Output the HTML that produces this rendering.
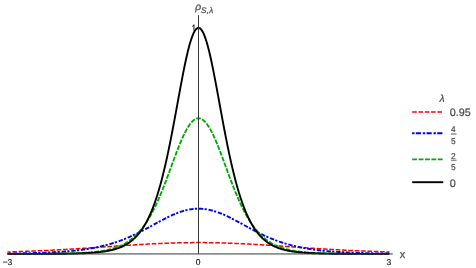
<!DOCTYPE html>
<html><head><meta charset="utf-8"><style>
html,body{margin:0;padding:0;background:#fff;}
svg{display:block;will-change:transform;}
text{font-family:"Liberation Sans",sans-serif;text-rendering:geometricPrecision;}
</style></head><body>
<svg width="476" height="268" viewBox="0 0 476 268">
<rect width="476" height="268" fill="#fff"/>
<path d="M7.49,251.99 L7.97,251.98 L8.45,251.97 L8.92,251.95 L9.40,251.94 L9.88,251.92 L10.36,251.91 L10.83,251.89 L11.31,251.88 L11.79,251.86 L12.27,251.84 L12.74,251.83 L13.22,251.81 L13.70,251.80 L14.18,251.78 L14.65,251.77 L15.13,251.75 L15.61,251.73 L16.09,251.72 L16.56,251.70 L17.04,251.69 L17.52,251.67 L18.00,251.65 L18.47,251.64 L18.95,251.62 L19.43,251.60 L19.91,251.58 L20.38,251.57 L20.86,251.55 L21.34,251.53 L21.82,251.52 L22.29,251.50 L22.77,251.48 L23.25,251.46 L23.73,251.44 L24.20,251.43 L24.68,251.41 L25.16,251.39 L25.64,251.37 L26.11,251.35 L26.59,251.34 L27.07,251.32 L27.55,251.30 L28.02,251.28 L28.50,251.26 L28.98,251.24 L29.46,251.22 L29.93,251.20 L30.41,251.18 L30.89,251.16 L31.37,251.14 L31.84,251.12 L32.32,251.10 L32.80,251.08 L33.28,251.06 L33.75,251.04 L34.23,251.02 L34.71,251.00 L35.19,250.98 L35.66,250.96 L36.14,250.94 L36.62,250.92 L37.10,250.90 L37.57,250.88 L38.05,250.86 L38.53,250.84 L39.01,250.81 L39.48,250.79 L39.96,250.77 L40.44,250.75 L40.92,250.73 L41.39,250.71 L41.87,250.68 L42.35,250.66 L42.83,250.64 L43.30,250.62 L43.78,250.59 L44.26,250.57 L44.74,250.55 L45.21,250.52 L45.69,250.50 L46.17,250.48 L46.65,250.46 L47.12,250.43 L47.60,250.41 L48.08,250.38 L48.56,250.36 L49.03,250.34 L49.51,250.31 L49.99,250.29 L50.47,250.26 L50.94,250.24 L51.42,250.22 L51.90,250.19 L52.38,250.17 L52.85,250.14 L53.33,250.12 L53.81,250.09 L54.29,250.07 L54.76,250.04 L55.24,250.02 L55.72,249.99 L56.20,249.96 L56.68,249.94 L57.15,249.91 L57.63,249.89 L58.11,249.86 L58.59,249.84 L59.06,249.81 L59.54,249.78 L60.02,249.76 L60.50,249.73 L60.97,249.70 L61.45,249.68 L61.93,249.65 L62.41,249.62 L62.88,249.59 L63.36,249.57 L63.84,249.54 L64.32,249.51 L64.79,249.49 L65.27,249.46 L65.75,249.43 L66.23,249.40 L66.70,249.37 L67.18,249.35 L67.66,249.32 L68.14,249.29 L68.61,249.26 L69.09,249.23 L69.57,249.20 L70.05,249.18 L70.52,249.15 L71.00,249.12 L71.48,249.09 L71.96,249.06 L72.43,249.03 L72.91,249.00 L73.39,248.97 L73.87,248.94 L74.34,248.91 L74.82,248.88 L75.30,248.85 L75.78,248.82 L76.25,248.79 L76.73,248.76 L77.21,248.73 L77.69,248.70 L78.16,248.67 L78.64,248.64 L79.12,248.61 L79.60,248.58 L80.07,248.55 L80.55,248.52 L81.03,248.49 L81.51,248.46 L81.98,248.43 L82.46,248.40 L82.94,248.37 L83.42,248.33 L83.89,248.30 L84.37,248.27 L84.85,248.24 L85.33,248.21 L85.80,248.18 L86.28,248.15 L86.76,248.11 L87.24,248.08 L87.71,248.05 L88.19,248.02 L88.67,247.99 L89.15,247.95 L89.62,247.92 L90.10,247.89 L90.58,247.86 L91.06,247.83 L91.53,247.79 L92.01,247.76 L92.49,247.73 L92.97,247.70 L93.44,247.66 L93.92,247.63 L94.40,247.60 L94.88,247.57 L95.35,247.53 L95.83,247.50 L96.31,247.47 L96.79,247.44 L97.26,247.40 L97.74,247.37 L98.22,247.34 L98.70,247.30 L99.17,247.27 L99.65,247.24 L100.13,247.21 L100.61,247.17 L101.08,247.14 L101.56,247.11 L102.04,247.07 L102.52,247.04 L103.00,247.01 L103.47,246.97 L103.95,246.94 L104.43,246.91 L104.91,246.87 L105.38,246.84 L105.86,246.81 L106.34,246.78 L106.82,246.74 L107.29,246.71 L107.77,246.68 L108.25,246.64 L108.73,246.61 L109.20,246.58 L109.68,246.54 L110.16,246.51 L110.64,246.48 L111.11,246.44 L111.59,246.41 L112.07,246.38 L112.55,246.34 L113.02,246.31 L113.50,246.28 L113.98,246.24 L114.46,246.21 L114.93,246.18 L115.41,246.15 L115.89,246.11 L116.37,246.08 L116.84,246.05 L117.32,246.01 L117.80,245.98 L118.28,245.95 L118.75,245.92 L119.23,245.88 L119.71,245.85 L120.19,245.82 L120.66,245.79 L121.14,245.75 L121.62,245.72 L122.10,245.69 L122.57,245.66 L123.05,245.62 L123.53,245.59 L124.01,245.56 L124.48,245.53 L124.96,245.50 L125.44,245.46 L125.92,245.43 L126.39,245.40 L126.87,245.37 L127.35,245.34 L127.83,245.31 L128.30,245.27 L128.78,245.24 L129.26,245.21 L129.74,245.18 L130.21,245.15 L130.69,245.12 L131.17,245.09 L131.65,245.06 L132.12,245.03 L132.60,245.00 L133.08,244.97 L133.56,244.94 L134.03,244.91 L134.51,244.88 L134.99,244.85 L135.47,244.82 L135.94,244.79 L136.42,244.76 L136.90,244.73 L137.38,244.70 L137.85,244.67 L138.33,244.64 L138.81,244.61 L139.29,244.58 L139.76,244.55 L140.24,244.52 L140.72,244.50 L141.20,244.47 L141.67,244.44 L142.15,244.41 L142.63,244.38 L143.11,244.36 L143.58,244.33 L144.06,244.30 L144.54,244.27 L145.02,244.25 L145.49,244.22 L145.97,244.19 L146.45,244.17 L146.93,244.14 L147.40,244.11 L147.88,244.09 L148.36,244.06 L148.84,244.04 L149.31,244.01 L149.79,243.98 L150.27,243.96 L150.75,243.93 L151.23,243.91 L151.70,243.88 L152.18,243.86 L152.66,243.84 L153.14,243.81 L153.61,243.79 L154.09,243.76 L154.57,243.74 L155.05,243.72 L155.52,243.69 L156.00,243.67 L156.48,243.65 L156.96,243.63 L157.43,243.60 L157.91,243.58 L158.39,243.56 L158.87,243.54 L159.34,243.52 L159.82,243.50 L160.30,243.47 L160.78,243.45 L161.25,243.43 L161.73,243.41 L162.21,243.39 L162.69,243.37 L163.16,243.35 L163.64,243.33 L164.12,243.31 L164.60,243.29 L165.07,243.28 L165.55,243.26 L166.03,243.24 L166.51,243.22 L166.98,243.20 L167.46,243.19 L167.94,243.17 L168.42,243.15 L168.89,243.13 L169.37,243.12 L169.85,243.10 L170.33,243.08 L170.80,243.07 L171.28,243.05 L171.76,243.04 L172.24,243.02 L172.71,243.01 L173.19,242.99 L173.67,242.98 L174.15,242.96 L174.62,242.95 L175.10,242.94 L175.58,242.92 L176.06,242.91 L176.53,242.90 L177.01,242.88 L177.49,242.87 L177.97,242.86 L178.44,242.85 L178.92,242.84 L179.40,242.83 L179.88,242.81 L180.35,242.80 L180.83,242.79 L181.31,242.78 L181.79,242.77 L182.26,242.76 L182.74,242.75 L183.22,242.74 L183.70,242.74 L184.17,242.73 L184.65,242.72 L185.13,242.71 L185.61,242.70 L186.08,242.70 L186.56,242.69 L187.04,242.68 L187.52,242.68 L187.99,242.67 L188.47,242.66 L188.95,242.66 L189.43,242.65 L189.90,242.65 L190.38,242.64 L190.86,242.64 L191.34,242.63 L191.81,242.63 L192.29,242.62 L192.77,242.62 L193.25,242.62 L193.72,242.61 L194.20,242.61 L194.68,242.61 L195.16,242.61 L195.63,242.61 L196.11,242.60 L196.59,242.60 L197.07,242.60 L197.54,242.60 L198.02,242.60 L198.50,242.60 L198.98,242.60 L199.46,242.60 L199.93,242.60 L200.41,242.60 L200.89,242.60 L201.37,242.61 L201.84,242.61 L202.32,242.61 L202.80,242.61 L203.28,242.61 L203.75,242.62 L204.23,242.62 L204.71,242.62 L205.19,242.63 L205.66,242.63 L206.14,242.64 L206.62,242.64 L207.10,242.65 L207.57,242.65 L208.05,242.66 L208.53,242.66 L209.01,242.67 L209.48,242.68 L209.96,242.68 L210.44,242.69 L210.92,242.70 L211.39,242.70 L211.87,242.71 L212.35,242.72 L212.83,242.73 L213.30,242.74 L213.78,242.74 L214.26,242.75 L214.74,242.76 L215.21,242.77 L215.69,242.78 L216.17,242.79 L216.65,242.80 L217.12,242.81 L217.60,242.83 L218.08,242.84 L218.56,242.85 L219.03,242.86 L219.51,242.87 L219.99,242.88 L220.47,242.90 L220.94,242.91 L221.42,242.92 L221.90,242.94 L222.38,242.95 L222.85,242.96 L223.33,242.98 L223.81,242.99 L224.29,243.01 L224.76,243.02 L225.24,243.04 L225.72,243.05 L226.20,243.07 L226.67,243.08 L227.15,243.10 L227.63,243.12 L228.11,243.13 L228.58,243.15 L229.06,243.17 L229.54,243.19 L230.02,243.20 L230.49,243.22 L230.97,243.24 L231.45,243.26 L231.93,243.28 L232.40,243.29 L232.88,243.31 L233.36,243.33 L233.84,243.35 L234.31,243.37 L234.79,243.39 L235.27,243.41 L235.75,243.43 L236.22,243.45 L236.70,243.47 L237.18,243.50 L237.66,243.52 L238.13,243.54 L238.61,243.56 L239.09,243.58 L239.57,243.60 L240.04,243.63 L240.52,243.65 L241.00,243.67 L241.48,243.69 L241.95,243.72 L242.43,243.74 L242.91,243.76 L243.39,243.79 L243.86,243.81 L244.34,243.84 L244.82,243.86 L245.30,243.88 L245.77,243.91 L246.25,243.93 L246.73,243.96 L247.21,243.98 L247.69,244.01 L248.16,244.04 L248.64,244.06 L249.12,244.09 L249.60,244.11 L250.07,244.14 L250.55,244.17 L251.03,244.19 L251.51,244.22 L251.98,244.25 L252.46,244.27 L252.94,244.30 L253.42,244.33 L253.89,244.36 L254.37,244.38 L254.85,244.41 L255.33,244.44 L255.80,244.47 L256.28,244.50 L256.76,244.52 L257.24,244.55 L257.71,244.58 L258.19,244.61 L258.67,244.64 L259.15,244.67 L259.62,244.70 L260.10,244.73 L260.58,244.76 L261.06,244.79 L261.53,244.82 L262.01,244.85 L262.49,244.88 L262.97,244.91 L263.44,244.94 L263.92,244.97 L264.40,245.00 L264.88,245.03 L265.35,245.06 L265.83,245.09 L266.31,245.12 L266.79,245.15 L267.26,245.18 L267.74,245.21 L268.22,245.24 L268.70,245.27 L269.17,245.31 L269.65,245.34 L270.13,245.37 L270.61,245.40 L271.08,245.43 L271.56,245.46 L272.04,245.50 L272.52,245.53 L272.99,245.56 L273.47,245.59 L273.95,245.62 L274.43,245.66 L274.90,245.69 L275.38,245.72 L275.86,245.75 L276.34,245.79 L276.81,245.82 L277.29,245.85 L277.77,245.88 L278.25,245.92 L278.72,245.95 L279.20,245.98 L279.68,246.01 L280.16,246.05 L280.63,246.08 L281.11,246.11 L281.59,246.15 L282.07,246.18 L282.54,246.21 L283.02,246.24 L283.50,246.28 L283.98,246.31 L284.45,246.34 L284.93,246.38 L285.41,246.41 L285.89,246.44 L286.36,246.48 L286.84,246.51 L287.32,246.54 L287.80,246.58 L288.27,246.61 L288.75,246.64 L289.23,246.68 L289.71,246.71 L290.18,246.74 L290.66,246.78 L291.14,246.81 L291.62,246.84 L292.09,246.87 L292.57,246.91 L293.05,246.94 L293.53,246.97 L294.00,247.01 L294.48,247.04 L294.96,247.07 L295.44,247.11 L295.92,247.14 L296.39,247.17 L296.87,247.21 L297.35,247.24 L297.83,247.27 L298.30,247.30 L298.78,247.34 L299.26,247.37 L299.74,247.40 L300.21,247.44 L300.69,247.47 L301.17,247.50 L301.65,247.53 L302.12,247.57 L302.60,247.60 L303.08,247.63 L303.56,247.66 L304.03,247.70 L304.51,247.73 L304.99,247.76 L305.47,247.79 L305.94,247.83 L306.42,247.86 L306.90,247.89 L307.38,247.92 L307.85,247.95 L308.33,247.99 L308.81,248.02 L309.29,248.05 L309.76,248.08 L310.24,248.11 L310.72,248.15 L311.20,248.18 L311.67,248.21 L312.15,248.24 L312.63,248.27 L313.11,248.30 L313.58,248.33 L314.06,248.37 L314.54,248.40 L315.02,248.43 L315.49,248.46 L315.97,248.49 L316.45,248.52 L316.93,248.55 L317.40,248.58 L317.88,248.61 L318.36,248.64 L318.84,248.67 L319.31,248.70 L319.79,248.73 L320.27,248.76 L320.75,248.79 L321.22,248.82 L321.70,248.85 L322.18,248.88 L322.66,248.91 L323.13,248.94 L323.61,248.97 L324.09,249.00 L324.57,249.03 L325.04,249.06 L325.52,249.09 L326.00,249.12 L326.48,249.15 L326.95,249.18 L327.43,249.20 L327.91,249.23 L328.39,249.26 L328.86,249.29 L329.34,249.32 L329.82,249.35 L330.30,249.37 L330.77,249.40 L331.25,249.43 L331.73,249.46 L332.21,249.49 L332.68,249.51 L333.16,249.54 L333.64,249.57 L334.12,249.59 L334.59,249.62 L335.07,249.65 L335.55,249.68 L336.03,249.70 L336.50,249.73 L336.98,249.76 L337.46,249.78 L337.94,249.81 L338.41,249.84 L338.89,249.86 L339.37,249.89 L339.85,249.91 L340.32,249.94 L340.80,249.96 L341.28,249.99 L341.76,250.02 L342.24,250.04 L342.71,250.07 L343.19,250.09 L343.67,250.12 L344.15,250.14 L344.62,250.17 L345.10,250.19 L345.58,250.22 L346.06,250.24 L346.53,250.26 L347.01,250.29 L347.49,250.31 L347.97,250.34 L348.44,250.36 L348.92,250.38 L349.40,250.41 L349.88,250.43 L350.35,250.46 L350.83,250.48 L351.31,250.50 L351.79,250.52 L352.26,250.55 L352.74,250.57 L353.22,250.59 L353.70,250.62 L354.17,250.64 L354.65,250.66 L355.13,250.68 L355.61,250.71 L356.08,250.73 L356.56,250.75 L357.04,250.77 L357.52,250.79 L357.99,250.81 L358.47,250.84 L358.95,250.86 L359.43,250.88 L359.90,250.90 L360.38,250.92 L360.86,250.94 L361.34,250.96 L361.81,250.98 L362.29,251.00 L362.77,251.02 L363.25,251.04 L363.72,251.06 L364.20,251.08 L364.68,251.10 L365.16,251.12 L365.63,251.14 L366.11,251.16 L366.59,251.18 L367.07,251.20 L367.54,251.22 L368.02,251.24 L368.50,251.26 L368.98,251.28 L369.45,251.30 L369.93,251.32 L370.41,251.34 L370.89,251.35 L371.36,251.37 L371.84,251.39 L372.32,251.41 L372.80,251.43 L373.27,251.44 L373.75,251.46 L374.23,251.48 L374.71,251.50 L375.18,251.52 L375.66,251.53 L376.14,251.55 L376.62,251.57 L377.09,251.58 L377.57,251.60 L378.05,251.62 L378.53,251.64 L379.00,251.65 L379.48,251.67 L379.96,251.69 L380.44,251.70 L380.91,251.72 L381.39,251.73 L381.87,251.75 L382.35,251.77 L382.82,251.78 L383.30,251.80 L383.78,251.81 L384.26,251.83 L384.73,251.84 L385.21,251.86 L385.69,251.88 L386.17,251.89 L386.64,251.91 L387.12,251.92 L387.60,251.94 L388.08,251.95 L388.55,251.97 L389.03,251.98 L389.51,251.99" fill="none" stroke="#ff0000" stroke-width="1.5" stroke-dasharray="4.6 1.75" stroke-dashoffset="1.53" stroke-linejoin="round"/>
<path d="M7.49,253.56 L7.97,253.55 L8.45,253.55 L8.92,253.54 L9.40,253.54 L9.88,253.53 L10.36,253.52 L10.83,253.52 L11.31,253.51 L11.79,253.51 L12.27,253.50 L12.74,253.49 L13.22,253.49 L13.70,253.48 L14.18,253.47 L14.65,253.47 L15.13,253.46 L15.61,253.45 L16.09,253.44 L16.56,253.44 L17.04,253.43 L17.52,253.42 L18.00,253.41 L18.47,253.40 L18.95,253.40 L19.43,253.39 L19.91,253.38 L20.38,253.37 L20.86,253.36 L21.34,253.35 L21.82,253.35 L22.29,253.34 L22.77,253.33 L23.25,253.32 L23.73,253.31 L24.20,253.30 L24.68,253.29 L25.16,253.28 L25.64,253.27 L26.11,253.26 L26.59,253.25 L27.07,253.24 L27.55,253.23 L28.02,253.22 L28.50,253.20 L28.98,253.19 L29.46,253.18 L29.93,253.17 L30.41,253.16 L30.89,253.15 L31.37,253.13 L31.84,253.12 L32.32,253.11 L32.80,253.09 L33.28,253.08 L33.75,253.07 L34.23,253.05 L34.71,253.04 L35.19,253.03 L35.66,253.01 L36.14,253.00 L36.62,252.98 L37.10,252.97 L37.57,252.95 L38.05,252.94 L38.53,252.92 L39.01,252.91 L39.48,252.89 L39.96,252.87 L40.44,252.86 L40.92,252.84 L41.39,252.82 L41.87,252.81 L42.35,252.79 L42.83,252.77 L43.30,252.75 L43.78,252.73 L44.26,252.71 L44.74,252.70 L45.21,252.68 L45.69,252.66 L46.17,252.64 L46.65,252.62 L47.12,252.59 L47.60,252.57 L48.08,252.55 L48.56,252.53 L49.03,252.51 L49.51,252.49 L49.99,252.46 L50.47,252.44 L50.94,252.42 L51.42,252.39 L51.90,252.37 L52.38,252.34 L52.85,252.32 L53.33,252.29 L53.81,252.27 L54.29,252.24 L54.76,252.21 L55.24,252.19 L55.72,252.16 L56.20,252.13 L56.68,252.10 L57.15,252.07 L57.63,252.04 L58.11,252.02 L58.59,251.98 L59.06,251.95 L59.54,251.92 L60.02,251.89 L60.50,251.86 L60.97,251.83 L61.45,251.79 L61.93,251.76 L62.41,251.73 L62.88,251.69 L63.36,251.66 L63.84,251.62 L64.32,251.58 L64.79,251.55 L65.27,251.51 L65.75,251.47 L66.23,251.43 L66.70,251.39 L67.18,251.35 L67.66,251.31 L68.14,251.27 L68.61,251.23 L69.09,251.19 L69.57,251.14 L70.05,251.10 L70.52,251.06 L71.00,251.01 L71.48,250.97 L71.96,250.92 L72.43,250.87 L72.91,250.82 L73.39,250.78 L73.87,250.73 L74.34,250.68 L74.82,250.63 L75.30,250.58 L75.78,250.52 L76.25,250.47 L76.73,250.42 L77.21,250.36 L77.69,250.31 L78.16,250.25 L78.64,250.19 L79.12,250.14 L79.60,250.08 L80.07,250.02 L80.55,249.96 L81.03,249.89 L81.51,249.83 L81.98,249.77 L82.46,249.71 L82.94,249.64 L83.42,249.57 L83.89,249.51 L84.37,249.44 L84.85,249.37 L85.33,249.30 L85.80,249.23 L86.28,249.16 L86.76,249.09 L87.24,249.01 L87.71,248.94 L88.19,248.86 L88.67,248.78 L89.15,248.71 L89.62,248.63 L90.10,248.55 L90.58,248.46 L91.06,248.38 L91.53,248.30 L92.01,248.21 L92.49,248.13 L92.97,248.04 L93.44,247.95 L93.92,247.86 L94.40,247.77 L94.88,247.68 L95.35,247.58 L95.83,247.49 L96.31,247.39 L96.79,247.30 L97.26,247.20 L97.74,247.10 L98.22,247.00 L98.70,246.89 L99.17,246.79 L99.65,246.68 L100.13,246.58 L100.61,246.47 L101.08,246.36 L101.56,246.25 L102.04,246.14 L102.52,246.02 L103.00,245.91 L103.47,245.79 L103.95,245.67 L104.43,245.55 L104.91,245.43 L105.38,245.31 L105.86,245.18 L106.34,245.06 L106.82,244.93 L107.29,244.80 L107.77,244.67 L108.25,244.54 L108.73,244.41 L109.20,244.27 L109.68,244.13 L110.16,244.00 L110.64,243.86 L111.11,243.71 L111.59,243.57 L112.07,243.43 L112.55,243.28 L113.02,243.13 L113.50,242.98 L113.98,242.83 L114.46,242.67 L114.93,242.52 L115.41,242.36 L115.89,242.20 L116.37,242.04 L116.84,241.88 L117.32,241.72 L117.80,241.55 L118.28,241.39 L118.75,241.22 L119.23,241.05 L119.71,240.87 L120.19,240.70 L120.66,240.52 L121.14,240.34 L121.62,240.17 L122.10,239.98 L122.57,239.80 L123.05,239.62 L123.53,239.43 L124.01,239.24 L124.48,239.05 L124.96,238.86 L125.44,238.67 L125.92,238.47 L126.39,238.27 L126.87,238.07 L127.35,237.87 L127.83,237.67 L128.30,237.47 L128.78,237.26 L129.26,237.05 L129.74,236.84 L130.21,236.63 L130.69,236.42 L131.17,236.21 L131.65,235.99 L132.12,235.77 L132.60,235.56 L133.08,235.33 L133.56,235.11 L134.03,234.89 L134.51,234.66 L134.99,234.44 L135.47,234.21 L135.94,233.98 L136.42,233.75 L136.90,233.51 L137.38,233.28 L137.85,233.04 L138.33,232.81 L138.81,232.57 L139.29,232.33 L139.76,232.09 L140.24,231.85 L140.72,231.60 L141.20,231.36 L141.67,231.11 L142.15,230.87 L142.63,230.62 L143.11,230.37 L143.58,230.12 L144.06,229.87 L144.54,229.62 L145.02,229.36 L145.49,229.11 L145.97,228.86 L146.45,228.60 L146.93,228.34 L147.40,228.09 L147.88,227.83 L148.36,227.57 L148.84,227.31 L149.31,227.05 L149.79,226.80 L150.27,226.54 L150.75,226.27 L151.23,226.01 L151.70,225.75 L152.18,225.49 L152.66,225.23 L153.14,224.97 L153.61,224.71 L154.09,224.45 L154.57,224.18 L155.05,223.92 L155.52,223.66 L156.00,223.40 L156.48,223.14 L156.96,222.88 L157.43,222.62 L157.91,222.36 L158.39,222.10 L158.87,221.84 L159.34,221.59 L159.82,221.33 L160.30,221.07 L160.78,220.82 L161.25,220.56 L161.73,220.31 L162.21,220.06 L162.69,219.81 L163.16,219.56 L163.64,219.31 L164.12,219.06 L164.60,218.81 L165.07,218.57 L165.55,218.33 L166.03,218.08 L166.51,217.84 L166.98,217.61 L167.46,217.37 L167.94,217.13 L168.42,216.90 L168.89,216.67 L169.37,216.44 L169.85,216.22 L170.33,215.99 L170.80,215.77 L171.28,215.55 L171.76,215.33 L172.24,215.12 L172.71,214.91 L173.19,214.70 L173.67,214.49 L174.15,214.29 L174.62,214.08 L175.10,213.88 L175.58,213.69 L176.06,213.50 L176.53,213.31 L177.01,213.12 L177.49,212.94 L177.97,212.76 L178.44,212.58 L178.92,212.41 L179.40,212.23 L179.88,212.07 L180.35,211.90 L180.83,211.74 L181.31,211.59 L181.79,211.44 L182.26,211.29 L182.74,211.14 L183.22,211.00 L183.70,210.86 L184.17,210.73 L184.65,210.60 L185.13,210.47 L185.61,210.35 L186.08,210.23 L186.56,210.12 L187.04,210.01 L187.52,209.91 L187.99,209.80 L188.47,209.71 L188.95,209.61 L189.43,209.53 L189.90,209.44 L190.38,209.36 L190.86,209.29 L191.34,209.22 L191.81,209.15 L192.29,209.09 L192.77,209.03 L193.25,208.98 L193.72,208.93 L194.20,208.89 L194.68,208.85 L195.16,208.81 L195.63,208.78 L196.11,208.76 L196.59,208.74 L197.07,208.72 L197.54,208.71 L198.02,208.70 L198.50,208.70 L198.98,208.70 L199.46,208.71 L199.93,208.72 L200.41,208.74 L200.89,208.76 L201.37,208.78 L201.84,208.81 L202.32,208.85 L202.80,208.89 L203.28,208.93 L203.75,208.98 L204.23,209.03 L204.71,209.09 L205.19,209.15 L205.66,209.22 L206.14,209.29 L206.62,209.36 L207.10,209.44 L207.57,209.53 L208.05,209.61 L208.53,209.71 L209.01,209.80 L209.48,209.91 L209.96,210.01 L210.44,210.12 L210.92,210.23 L211.39,210.35 L211.87,210.47 L212.35,210.60 L212.83,210.73 L213.30,210.86 L213.78,211.00 L214.26,211.14 L214.74,211.29 L215.21,211.44 L215.69,211.59 L216.17,211.74 L216.65,211.90 L217.12,212.07 L217.60,212.23 L218.08,212.41 L218.56,212.58 L219.03,212.76 L219.51,212.94 L219.99,213.12 L220.47,213.31 L220.94,213.50 L221.42,213.69 L221.90,213.88 L222.38,214.08 L222.85,214.29 L223.33,214.49 L223.81,214.70 L224.29,214.91 L224.76,215.12 L225.24,215.33 L225.72,215.55 L226.20,215.77 L226.67,215.99 L227.15,216.22 L227.63,216.44 L228.11,216.67 L228.58,216.90 L229.06,217.13 L229.54,217.37 L230.02,217.61 L230.49,217.84 L230.97,218.08 L231.45,218.33 L231.93,218.57 L232.40,218.81 L232.88,219.06 L233.36,219.31 L233.84,219.56 L234.31,219.81 L234.79,220.06 L235.27,220.31 L235.75,220.56 L236.22,220.82 L236.70,221.07 L237.18,221.33 L237.66,221.59 L238.13,221.84 L238.61,222.10 L239.09,222.36 L239.57,222.62 L240.04,222.88 L240.52,223.14 L241.00,223.40 L241.48,223.66 L241.95,223.92 L242.43,224.18 L242.91,224.45 L243.39,224.71 L243.86,224.97 L244.34,225.23 L244.82,225.49 L245.30,225.75 L245.77,226.01 L246.25,226.27 L246.73,226.54 L247.21,226.80 L247.69,227.05 L248.16,227.31 L248.64,227.57 L249.12,227.83 L249.60,228.09 L250.07,228.34 L250.55,228.60 L251.03,228.86 L251.51,229.11 L251.98,229.36 L252.46,229.62 L252.94,229.87 L253.42,230.12 L253.89,230.37 L254.37,230.62 L254.85,230.87 L255.33,231.11 L255.80,231.36 L256.28,231.60 L256.76,231.85 L257.24,232.09 L257.71,232.33 L258.19,232.57 L258.67,232.81 L259.15,233.04 L259.62,233.28 L260.10,233.51 L260.58,233.75 L261.06,233.98 L261.53,234.21 L262.01,234.44 L262.49,234.66 L262.97,234.89 L263.44,235.11 L263.92,235.33 L264.40,235.56 L264.88,235.77 L265.35,235.99 L265.83,236.21 L266.31,236.42 L266.79,236.63 L267.26,236.84 L267.74,237.05 L268.22,237.26 L268.70,237.47 L269.17,237.67 L269.65,237.87 L270.13,238.07 L270.61,238.27 L271.08,238.47 L271.56,238.67 L272.04,238.86 L272.52,239.05 L272.99,239.24 L273.47,239.43 L273.95,239.62 L274.43,239.80 L274.90,239.98 L275.38,240.17 L275.86,240.34 L276.34,240.52 L276.81,240.70 L277.29,240.87 L277.77,241.05 L278.25,241.22 L278.72,241.39 L279.20,241.55 L279.68,241.72 L280.16,241.88 L280.63,242.04 L281.11,242.20 L281.59,242.36 L282.07,242.52 L282.54,242.67 L283.02,242.83 L283.50,242.98 L283.98,243.13 L284.45,243.28 L284.93,243.43 L285.41,243.57 L285.89,243.71 L286.36,243.86 L286.84,244.00 L287.32,244.13 L287.80,244.27 L288.27,244.41 L288.75,244.54 L289.23,244.67 L289.71,244.80 L290.18,244.93 L290.66,245.06 L291.14,245.18 L291.62,245.31 L292.09,245.43 L292.57,245.55 L293.05,245.67 L293.53,245.79 L294.00,245.91 L294.48,246.02 L294.96,246.14 L295.44,246.25 L295.92,246.36 L296.39,246.47 L296.87,246.58 L297.35,246.68 L297.83,246.79 L298.30,246.89 L298.78,247.00 L299.26,247.10 L299.74,247.20 L300.21,247.30 L300.69,247.39 L301.17,247.49 L301.65,247.58 L302.12,247.68 L302.60,247.77 L303.08,247.86 L303.56,247.95 L304.03,248.04 L304.51,248.13 L304.99,248.21 L305.47,248.30 L305.94,248.38 L306.42,248.46 L306.90,248.55 L307.38,248.63 L307.85,248.71 L308.33,248.78 L308.81,248.86 L309.29,248.94 L309.76,249.01 L310.24,249.09 L310.72,249.16 L311.20,249.23 L311.67,249.30 L312.15,249.37 L312.63,249.44 L313.11,249.51 L313.58,249.57 L314.06,249.64 L314.54,249.71 L315.02,249.77 L315.49,249.83 L315.97,249.89 L316.45,249.96 L316.93,250.02 L317.40,250.08 L317.88,250.14 L318.36,250.19 L318.84,250.25 L319.31,250.31 L319.79,250.36 L320.27,250.42 L320.75,250.47 L321.22,250.52 L321.70,250.58 L322.18,250.63 L322.66,250.68 L323.13,250.73 L323.61,250.78 L324.09,250.82 L324.57,250.87 L325.04,250.92 L325.52,250.97 L326.00,251.01 L326.48,251.06 L326.95,251.10 L327.43,251.14 L327.91,251.19 L328.39,251.23 L328.86,251.27 L329.34,251.31 L329.82,251.35 L330.30,251.39 L330.77,251.43 L331.25,251.47 L331.73,251.51 L332.21,251.55 L332.68,251.58 L333.16,251.62 L333.64,251.66 L334.12,251.69 L334.59,251.73 L335.07,251.76 L335.55,251.79 L336.03,251.83 L336.50,251.86 L336.98,251.89 L337.46,251.92 L337.94,251.95 L338.41,251.98 L338.89,252.02 L339.37,252.04 L339.85,252.07 L340.32,252.10 L340.80,252.13 L341.28,252.16 L341.76,252.19 L342.24,252.21 L342.71,252.24 L343.19,252.27 L343.67,252.29 L344.15,252.32 L344.62,252.34 L345.10,252.37 L345.58,252.39 L346.06,252.42 L346.53,252.44 L347.01,252.46 L347.49,252.49 L347.97,252.51 L348.44,252.53 L348.92,252.55 L349.40,252.57 L349.88,252.59 L350.35,252.62 L350.83,252.64 L351.31,252.66 L351.79,252.68 L352.26,252.70 L352.74,252.71 L353.22,252.73 L353.70,252.75 L354.17,252.77 L354.65,252.79 L355.13,252.81 L355.61,252.82 L356.08,252.84 L356.56,252.86 L357.04,252.87 L357.52,252.89 L357.99,252.91 L358.47,252.92 L358.95,252.94 L359.43,252.95 L359.90,252.97 L360.38,252.98 L360.86,253.00 L361.34,253.01 L361.81,253.03 L362.29,253.04 L362.77,253.05 L363.25,253.07 L363.72,253.08 L364.20,253.09 L364.68,253.11 L365.16,253.12 L365.63,253.13 L366.11,253.15 L366.59,253.16 L367.07,253.17 L367.54,253.18 L368.02,253.19 L368.50,253.20 L368.98,253.22 L369.45,253.23 L369.93,253.24 L370.41,253.25 L370.89,253.26 L371.36,253.27 L371.84,253.28 L372.32,253.29 L372.80,253.30 L373.27,253.31 L373.75,253.32 L374.23,253.33 L374.71,253.34 L375.18,253.35 L375.66,253.35 L376.14,253.36 L376.62,253.37 L377.09,253.38 L377.57,253.39 L378.05,253.40 L378.53,253.40 L379.00,253.41 L379.48,253.42 L379.96,253.43 L380.44,253.44 L380.91,253.44 L381.39,253.45 L381.87,253.46 L382.35,253.47 L382.82,253.47 L383.30,253.48 L383.78,253.49 L384.26,253.49 L384.73,253.50 L385.21,253.51 L385.69,253.51 L386.17,253.52 L386.64,253.52 L387.12,253.53 L387.60,253.54 L388.08,253.54 L388.55,253.55 L389.03,253.55 L389.51,253.56" fill="none" stroke="#0000ff" stroke-width="1.9" stroke-dasharray="4.4 1.3 2.2 1.8" stroke-dashoffset="4.03" stroke-linejoin="round"/>
<path d="M7.49,253.89 L7.97,253.89 L8.45,253.89 L8.92,253.89 L9.40,253.88 L9.88,253.88 L10.36,253.88 L10.83,253.88 L11.31,253.88 L11.79,253.88 L12.27,253.88 L12.74,253.88 L13.22,253.88 L13.70,253.88 L14.18,253.88 L14.65,253.88 L15.13,253.88 L15.61,253.88 L16.09,253.88 L16.56,253.88 L17.04,253.88 L17.52,253.88 L18.00,253.87 L18.47,253.87 L18.95,253.87 L19.43,253.87 L19.91,253.87 L20.38,253.87 L20.86,253.87 L21.34,253.87 L21.82,253.87 L22.29,253.87 L22.77,253.87 L23.25,253.87 L23.73,253.87 L24.20,253.86 L24.68,253.86 L25.16,253.86 L25.64,253.86 L26.11,253.86 L26.59,253.86 L27.07,253.86 L27.55,253.86 L28.02,253.86 L28.50,253.85 L28.98,253.85 L29.46,253.85 L29.93,253.85 L30.41,253.85 L30.89,253.85 L31.37,253.85 L31.84,253.85 L32.32,253.84 L32.80,253.84 L33.28,253.84 L33.75,253.84 L34.23,253.84 L34.71,253.84 L35.19,253.83 L35.66,253.83 L36.14,253.83 L36.62,253.83 L37.10,253.83 L37.57,253.82 L38.05,253.82 L38.53,253.82 L39.01,253.82 L39.48,253.82 L39.96,253.81 L40.44,253.81 L40.92,253.81 L41.39,253.81 L41.87,253.80 L42.35,253.80 L42.83,253.80 L43.30,253.79 L43.78,253.79 L44.26,253.79 L44.74,253.79 L45.21,253.78 L45.69,253.78 L46.17,253.78 L46.65,253.77 L47.12,253.77 L47.60,253.77 L48.08,253.76 L48.56,253.76 L49.03,253.75 L49.51,253.75 L49.99,253.75 L50.47,253.74 L50.94,253.74 L51.42,253.73 L51.90,253.73 L52.38,253.72 L52.85,253.72 L53.33,253.71 L53.81,253.71 L54.29,253.70 L54.76,253.70 L55.24,253.69 L55.72,253.69 L56.20,253.68 L56.68,253.67 L57.15,253.67 L57.63,253.66 L58.11,253.66 L58.59,253.65 L59.06,253.64 L59.54,253.63 L60.02,253.63 L60.50,253.62 L60.97,253.61 L61.45,253.60 L61.93,253.60 L62.41,253.59 L62.88,253.58 L63.36,253.57 L63.84,253.56 L64.32,253.55 L64.79,253.54 L65.27,253.53 L65.75,253.52 L66.23,253.51 L66.70,253.50 L67.18,253.49 L67.66,253.48 L68.14,253.47 L68.61,253.46 L69.09,253.44 L69.57,253.43 L70.05,253.42 L70.52,253.41 L71.00,253.39 L71.48,253.38 L71.96,253.36 L72.43,253.35 L72.91,253.33 L73.39,253.32 L73.87,253.30 L74.34,253.29 L74.82,253.27 L75.30,253.25 L75.78,253.23 L76.25,253.22 L76.73,253.20 L77.21,253.18 L77.69,253.16 L78.16,253.14 L78.64,253.12 L79.12,253.10 L79.60,253.07 L80.07,253.05 L80.55,253.03 L81.03,253.00 L81.51,252.98 L81.98,252.95 L82.46,252.93 L82.94,252.90 L83.42,252.87 L83.89,252.85 L84.37,252.82 L84.85,252.79 L85.33,252.76 L85.80,252.73 L86.28,252.69 L86.76,252.66 L87.24,252.63 L87.71,252.59 L88.19,252.56 L88.67,252.52 L89.15,252.48 L89.62,252.44 L90.10,252.40 L90.58,252.36 L91.06,252.32 L91.53,252.28 L92.01,252.23 L92.49,252.19 L92.97,252.14 L93.44,252.09 L93.92,252.04 L94.40,251.99 L94.88,251.94 L95.35,251.89 L95.83,251.83 L96.31,251.77 L96.79,251.72 L97.26,251.66 L97.74,251.60 L98.22,251.53 L98.70,251.47 L99.17,251.40 L99.65,251.34 L100.13,251.27 L100.61,251.19 L101.08,251.12 L101.56,251.05 L102.04,250.97 L102.52,250.89 L103.00,250.81 L103.47,250.72 L103.95,250.64 L104.43,250.55 L104.91,250.46 L105.38,250.36 L105.86,250.27 L106.34,250.17 L106.82,250.07 L107.29,249.97 L107.77,249.86 L108.25,249.75 L108.73,249.64 L109.20,249.52 L109.68,249.41 L110.16,249.28 L110.64,249.16 L111.11,249.03 L111.59,248.90 L112.07,248.77 L112.55,248.63 L113.02,248.49 L113.50,248.34 L113.98,248.19 L114.46,248.04 L114.93,247.89 L115.41,247.72 L115.89,247.56 L116.37,247.39 L116.84,247.22 L117.32,247.04 L117.80,246.86 L118.28,246.67 L118.75,246.48 L119.23,246.28 L119.71,246.08 L120.19,245.87 L120.66,245.66 L121.14,245.44 L121.62,245.22 L122.10,244.99 L122.57,244.75 L123.05,244.51 L123.53,244.26 L124.01,244.01 L124.48,243.75 L124.96,243.49 L125.44,243.21 L125.92,242.93 L126.39,242.65 L126.87,242.36 L127.35,242.06 L127.83,241.75 L128.30,241.43 L128.78,241.11 L129.26,240.78 L129.74,240.44 L130.21,240.09 L130.69,239.74 L131.17,239.38 L131.65,239.00 L132.12,238.62 L132.60,238.23 L133.08,237.84 L133.56,237.43 L134.03,237.01 L134.51,236.58 L134.99,236.14 L135.47,235.70 L135.94,235.24 L136.42,234.77 L136.90,234.29 L137.38,233.81 L137.85,233.31 L138.33,232.80 L138.81,232.27 L139.29,231.74 L139.76,231.19 L140.24,230.64 L140.72,230.07 L141.20,229.49 L141.67,228.90 L142.15,228.29 L142.63,227.67 L143.11,227.04 L143.58,226.40 L144.06,225.74 L144.54,225.07 L145.02,224.39 L145.49,223.69 L145.97,222.98 L146.45,222.26 L146.93,221.52 L147.40,220.77 L147.88,220.00 L148.36,219.23 L148.84,218.43 L149.31,217.62 L149.79,216.80 L150.27,215.97 L150.75,215.11 L151.23,214.25 L151.70,213.37 L152.18,212.47 L152.66,211.56 L153.14,210.64 L153.61,209.70 L154.09,208.75 L154.57,207.78 L155.05,206.80 L155.52,205.81 L156.00,204.80 L156.48,203.77 L156.96,202.73 L157.43,201.68 L157.91,200.62 L158.39,199.54 L158.87,198.45 L159.34,197.34 L159.82,196.22 L160.30,195.09 L160.78,193.95 L161.25,192.80 L161.73,191.63 L162.21,190.45 L162.69,189.26 L163.16,188.06 L163.64,186.86 L164.12,185.64 L164.60,184.41 L165.07,183.17 L165.55,181.93 L166.03,180.67 L166.51,179.41 L166.98,178.14 L167.46,176.87 L167.94,175.59 L168.42,174.31 L168.89,173.02 L169.37,171.73 L169.85,170.43 L170.33,169.13 L170.80,167.84 L171.28,166.54 L171.76,165.24 L172.24,163.94 L172.71,162.64 L173.19,161.34 L173.67,160.05 L174.15,158.77 L174.62,157.48 L175.10,156.20 L175.58,154.93 L176.06,153.67 L176.53,152.41 L177.01,151.17 L177.49,149.93 L177.97,148.71 L178.44,147.50 L178.92,146.30 L179.40,145.11 L179.88,143.94 L180.35,142.78 L180.83,141.64 L181.31,140.52 L181.79,139.42 L182.26,138.33 L182.74,137.27 L183.22,136.22 L183.70,135.20 L184.17,134.20 L184.65,133.23 L185.13,132.28 L185.61,131.35 L186.08,130.45 L186.56,129.58 L187.04,128.74 L187.52,127.92 L187.99,127.13 L188.47,126.37 L188.95,125.65 L189.43,124.95 L189.90,124.29 L190.38,123.65 L190.86,123.05 L191.34,122.49 L191.81,121.96 L192.29,121.46 L192.77,121.00 L193.25,120.57 L193.72,120.18 L194.20,119.83 L194.68,119.51 L195.16,119.22 L195.63,118.98 L196.11,118.77 L196.59,118.60 L197.07,118.47 L197.54,118.38 L198.02,118.32 L198.50,118.30 L198.98,118.32 L199.46,118.38 L199.93,118.47 L200.41,118.60 L200.89,118.77 L201.37,118.98 L201.84,119.22 L202.32,119.51 L202.80,119.83 L203.28,120.18 L203.75,120.57 L204.23,121.00 L204.71,121.46 L205.19,121.96 L205.66,122.49 L206.14,123.05 L206.62,123.65 L207.10,124.29 L207.57,124.95 L208.05,125.65 L208.53,126.37 L209.01,127.13 L209.48,127.92 L209.96,128.74 L210.44,129.58 L210.92,130.45 L211.39,131.35 L211.87,132.28 L212.35,133.23 L212.83,134.20 L213.30,135.20 L213.78,136.22 L214.26,137.27 L214.74,138.33 L215.21,139.42 L215.69,140.52 L216.17,141.64 L216.65,142.78 L217.12,143.94 L217.60,145.11 L218.08,146.30 L218.56,147.50 L219.03,148.71 L219.51,149.93 L219.99,151.17 L220.47,152.41 L220.94,153.67 L221.42,154.93 L221.90,156.20 L222.38,157.48 L222.85,158.77 L223.33,160.05 L223.81,161.34 L224.29,162.64 L224.76,163.94 L225.24,165.24 L225.72,166.54 L226.20,167.84 L226.67,169.13 L227.15,170.43 L227.63,171.73 L228.11,173.02 L228.58,174.31 L229.06,175.59 L229.54,176.87 L230.02,178.14 L230.49,179.41 L230.97,180.67 L231.45,181.93 L231.93,183.17 L232.40,184.41 L232.88,185.64 L233.36,186.86 L233.84,188.06 L234.31,189.26 L234.79,190.45 L235.27,191.63 L235.75,192.80 L236.22,193.95 L236.70,195.09 L237.18,196.22 L237.66,197.34 L238.13,198.45 L238.61,199.54 L239.09,200.62 L239.57,201.68 L240.04,202.73 L240.52,203.77 L241.00,204.80 L241.48,205.81 L241.95,206.80 L242.43,207.78 L242.91,208.75 L243.39,209.70 L243.86,210.64 L244.34,211.56 L244.82,212.47 L245.30,213.37 L245.77,214.25 L246.25,215.11 L246.73,215.97 L247.21,216.80 L247.69,217.62 L248.16,218.43 L248.64,219.23 L249.12,220.00 L249.60,220.77 L250.07,221.52 L250.55,222.26 L251.03,222.98 L251.51,223.69 L251.98,224.39 L252.46,225.07 L252.94,225.74 L253.42,226.40 L253.89,227.04 L254.37,227.67 L254.85,228.29 L255.33,228.90 L255.80,229.49 L256.28,230.07 L256.76,230.64 L257.24,231.19 L257.71,231.74 L258.19,232.27 L258.67,232.80 L259.15,233.31 L259.62,233.81 L260.10,234.29 L260.58,234.77 L261.06,235.24 L261.53,235.70 L262.01,236.14 L262.49,236.58 L262.97,237.01 L263.44,237.43 L263.92,237.84 L264.40,238.23 L264.88,238.62 L265.35,239.00 L265.83,239.38 L266.31,239.74 L266.79,240.09 L267.26,240.44 L267.74,240.78 L268.22,241.11 L268.70,241.43 L269.17,241.75 L269.65,242.06 L270.13,242.36 L270.61,242.65 L271.08,242.93 L271.56,243.21 L272.04,243.49 L272.52,243.75 L272.99,244.01 L273.47,244.26 L273.95,244.51 L274.43,244.75 L274.90,244.99 L275.38,245.22 L275.86,245.44 L276.34,245.66 L276.81,245.87 L277.29,246.08 L277.77,246.28 L278.25,246.48 L278.72,246.67 L279.20,246.86 L279.68,247.04 L280.16,247.22 L280.63,247.39 L281.11,247.56 L281.59,247.72 L282.07,247.89 L282.54,248.04 L283.02,248.19 L283.50,248.34 L283.98,248.49 L284.45,248.63 L284.93,248.77 L285.41,248.90 L285.89,249.03 L286.36,249.16 L286.84,249.28 L287.32,249.41 L287.80,249.52 L288.27,249.64 L288.75,249.75 L289.23,249.86 L289.71,249.97 L290.18,250.07 L290.66,250.17 L291.14,250.27 L291.62,250.36 L292.09,250.46 L292.57,250.55 L293.05,250.64 L293.53,250.72 L294.00,250.81 L294.48,250.89 L294.96,250.97 L295.44,251.05 L295.92,251.12 L296.39,251.19 L296.87,251.27 L297.35,251.34 L297.83,251.40 L298.30,251.47 L298.78,251.53 L299.26,251.60 L299.74,251.66 L300.21,251.72 L300.69,251.77 L301.17,251.83 L301.65,251.89 L302.12,251.94 L302.60,251.99 L303.08,252.04 L303.56,252.09 L304.03,252.14 L304.51,252.19 L304.99,252.23 L305.47,252.28 L305.94,252.32 L306.42,252.36 L306.90,252.40 L307.38,252.44 L307.85,252.48 L308.33,252.52 L308.81,252.56 L309.29,252.59 L309.76,252.63 L310.24,252.66 L310.72,252.69 L311.20,252.73 L311.67,252.76 L312.15,252.79 L312.63,252.82 L313.11,252.85 L313.58,252.87 L314.06,252.90 L314.54,252.93 L315.02,252.95 L315.49,252.98 L315.97,253.00 L316.45,253.03 L316.93,253.05 L317.40,253.07 L317.88,253.10 L318.36,253.12 L318.84,253.14 L319.31,253.16 L319.79,253.18 L320.27,253.20 L320.75,253.22 L321.22,253.23 L321.70,253.25 L322.18,253.27 L322.66,253.29 L323.13,253.30 L323.61,253.32 L324.09,253.33 L324.57,253.35 L325.04,253.36 L325.52,253.38 L326.00,253.39 L326.48,253.41 L326.95,253.42 L327.43,253.43 L327.91,253.44 L328.39,253.46 L328.86,253.47 L329.34,253.48 L329.82,253.49 L330.30,253.50 L330.77,253.51 L331.25,253.52 L331.73,253.53 L332.21,253.54 L332.68,253.55 L333.16,253.56 L333.64,253.57 L334.12,253.58 L334.59,253.59 L335.07,253.60 L335.55,253.60 L336.03,253.61 L336.50,253.62 L336.98,253.63 L337.46,253.63 L337.94,253.64 L338.41,253.65 L338.89,253.66 L339.37,253.66 L339.85,253.67 L340.32,253.67 L340.80,253.68 L341.28,253.69 L341.76,253.69 L342.24,253.70 L342.71,253.70 L343.19,253.71 L343.67,253.71 L344.15,253.72 L344.62,253.72 L345.10,253.73 L345.58,253.73 L346.06,253.74 L346.53,253.74 L347.01,253.75 L347.49,253.75 L347.97,253.75 L348.44,253.76 L348.92,253.76 L349.40,253.77 L349.88,253.77 L350.35,253.77 L350.83,253.78 L351.31,253.78 L351.79,253.78 L352.26,253.79 L352.74,253.79 L353.22,253.79 L353.70,253.79 L354.17,253.80 L354.65,253.80 L355.13,253.80 L355.61,253.81 L356.08,253.81 L356.56,253.81 L357.04,253.81 L357.52,253.82 L357.99,253.82 L358.47,253.82 L358.95,253.82 L359.43,253.82 L359.90,253.83 L360.38,253.83 L360.86,253.83 L361.34,253.83 L361.81,253.83 L362.29,253.84 L362.77,253.84 L363.25,253.84 L363.72,253.84 L364.20,253.84 L364.68,253.84 L365.16,253.85 L365.63,253.85 L366.11,253.85 L366.59,253.85 L367.07,253.85 L367.54,253.85 L368.02,253.85 L368.50,253.85 L368.98,253.86 L369.45,253.86 L369.93,253.86 L370.41,253.86 L370.89,253.86 L371.36,253.86 L371.84,253.86 L372.32,253.86 L372.80,253.86 L373.27,253.87 L373.75,253.87 L374.23,253.87 L374.71,253.87 L375.18,253.87 L375.66,253.87 L376.14,253.87 L376.62,253.87 L377.09,253.87 L377.57,253.87 L378.05,253.87 L378.53,253.87 L379.00,253.87 L379.48,253.88 L379.96,253.88 L380.44,253.88 L380.91,253.88 L381.39,253.88 L381.87,253.88 L382.35,253.88 L382.82,253.88 L383.30,253.88 L383.78,253.88 L384.26,253.88 L384.73,253.88 L385.21,253.88 L385.69,253.88 L386.17,253.88 L386.64,253.88 L387.12,253.88 L387.60,253.88 L388.08,253.89 L388.55,253.89 L389.03,253.89 L389.51,253.89" fill="none" stroke="#00aa00" stroke-width="1.85" stroke-dasharray="4.75 1.4" stroke-dashoffset="5.28" stroke-linejoin="round"/>
<path d="M7.49,253.89 L7.97,253.89 L8.45,253.89 L8.92,253.89 L9.40,253.89 L9.88,253.89 L10.36,253.89 L10.83,253.89 L11.31,253.89 L11.79,253.89 L12.27,253.89 L12.74,253.89 L13.22,253.89 L13.70,253.89 L14.18,253.89 L14.65,253.89 L15.13,253.89 L15.61,253.89 L16.09,253.89 L16.56,253.89 L17.04,253.89 L17.52,253.89 L18.00,253.89 L18.47,253.89 L18.95,253.89 L19.43,253.89 L19.91,253.89 L20.38,253.89 L20.86,253.89 L21.34,253.89 L21.82,253.89 L22.29,253.89 L22.77,253.89 L23.25,253.89 L23.73,253.88 L24.20,253.88 L24.68,253.88 L25.16,253.88 L25.64,253.88 L26.11,253.88 L26.59,253.88 L27.07,253.88 L27.55,253.88 L28.02,253.88 L28.50,253.88 L28.98,253.88 L29.46,253.88 L29.93,253.88 L30.41,253.88 L30.89,253.88 L31.37,253.88 L31.84,253.87 L32.32,253.87 L32.80,253.87 L33.28,253.87 L33.75,253.87 L34.23,253.87 L34.71,253.87 L35.19,253.87 L35.66,253.87 L36.14,253.87 L36.62,253.87 L37.10,253.86 L37.57,253.86 L38.05,253.86 L38.53,253.86 L39.01,253.86 L39.48,253.86 L39.96,253.86 L40.44,253.86 L40.92,253.85 L41.39,253.85 L41.87,253.85 L42.35,253.85 L42.83,253.85 L43.30,253.85 L43.78,253.85 L44.26,253.84 L44.74,253.84 L45.21,253.84 L45.69,253.84 L46.17,253.84 L46.65,253.83 L47.12,253.83 L47.60,253.83 L48.08,253.83 L48.56,253.83 L49.03,253.82 L49.51,253.82 L49.99,253.82 L50.47,253.82 L50.94,253.81 L51.42,253.81 L51.90,253.81 L52.38,253.81 L52.85,253.80 L53.33,253.80 L53.81,253.80 L54.29,253.79 L54.76,253.79 L55.24,253.79 L55.72,253.79 L56.20,253.78 L56.68,253.78 L57.15,253.77 L57.63,253.77 L58.11,253.77 L58.59,253.76 L59.06,253.76 L59.54,253.75 L60.02,253.75 L60.50,253.74 L60.97,253.74 L61.45,253.74 L61.93,253.73 L62.41,253.73 L62.88,253.72 L63.36,253.71 L63.84,253.71 L64.32,253.70 L64.79,253.70 L65.27,253.69 L65.75,253.68 L66.23,253.68 L66.70,253.67 L67.18,253.66 L67.66,253.66 L68.14,253.65 L68.61,253.64 L69.09,253.63 L69.57,253.63 L70.05,253.62 L70.52,253.61 L71.00,253.60 L71.48,253.59 L71.96,253.58 L72.43,253.57 L72.91,253.56 L73.39,253.55 L73.87,253.54 L74.34,253.53 L74.82,253.52 L75.30,253.51 L75.78,253.50 L76.25,253.48 L76.73,253.47 L77.21,253.46 L77.69,253.44 L78.16,253.43 L78.64,253.42 L79.12,253.40 L79.60,253.39 L80.07,253.37 L80.55,253.35 L81.03,253.34 L81.51,253.32 L81.98,253.30 L82.46,253.28 L82.94,253.27 L83.42,253.25 L83.89,253.23 L84.37,253.21 L84.85,253.18 L85.33,253.16 L85.80,253.14 L86.28,253.12 L86.76,253.09 L87.24,253.07 L87.71,253.04 L88.19,253.02 L88.67,252.99 L89.15,252.96 L89.62,252.93 L90.10,252.91 L90.58,252.88 L91.06,252.84 L91.53,252.81 L92.01,252.78 L92.49,252.74 L92.97,252.71 L93.44,252.67 L93.92,252.64 L94.40,252.60 L94.88,252.56 L95.35,252.52 L95.83,252.48 L96.31,252.43 L96.79,252.39 L97.26,252.34 L97.74,252.29 L98.22,252.25 L98.70,252.20 L99.17,252.14 L99.65,252.09 L100.13,252.04 L100.61,251.98 L101.08,251.92 L101.56,251.86 L102.04,251.80 L102.52,251.74 L103.00,251.67 L103.47,251.60 L103.95,251.53 L104.43,251.46 L104.91,251.39 L105.38,251.31 L105.86,251.23 L106.34,251.15 L106.82,251.07 L107.29,250.98 L107.77,250.90 L108.25,250.80 L108.73,250.71 L109.20,250.61 L109.68,250.52 L110.16,250.41 L110.64,250.31 L111.11,250.20 L111.59,250.09 L112.07,249.97 L112.55,249.85 L113.02,249.73 L113.50,249.61 L113.98,249.48 L114.46,249.34 L114.93,249.21 L115.41,249.06 L115.89,248.92 L116.37,248.77 L116.84,248.61 L117.32,248.46 L117.80,248.29 L118.28,248.12 L118.75,247.95 L119.23,247.77 L119.71,247.59 L120.19,247.40 L120.66,247.20 L121.14,247.00 L121.62,246.79 L122.10,246.58 L122.57,246.36 L123.05,246.14 L123.53,245.90 L124.01,245.67 L124.48,245.42 L124.96,245.17 L125.44,244.91 L125.92,244.64 L126.39,244.36 L126.87,244.08 L127.35,243.78 L127.83,243.48 L128.30,243.17 L128.78,242.86 L129.26,242.53 L129.74,242.19 L130.21,241.84 L130.69,241.49 L131.17,241.12 L131.65,240.74 L132.12,240.35 L132.60,239.95 L133.08,239.54 L133.56,239.12 L134.03,238.68 L134.51,238.24 L134.99,237.78 L135.47,237.31 L135.94,236.82 L136.42,236.32 L136.90,235.81 L137.38,235.28 L137.85,234.74 L138.33,234.18 L138.81,233.61 L139.29,233.02 L139.76,232.41 L140.24,231.79 L140.72,231.15 L141.20,230.50 L141.67,229.82 L142.15,229.13 L142.63,228.42 L143.11,227.69 L143.58,226.94 L144.06,226.17 L144.54,225.38 L145.02,224.57 L145.49,223.74 L145.97,222.89 L146.45,222.01 L146.93,221.11 L147.40,220.19 L147.88,219.25 L148.36,218.28 L148.84,217.29 L149.31,216.27 L149.79,215.23 L150.27,214.16 L150.75,213.06 L151.23,211.94 L151.70,210.79 L152.18,209.61 L152.66,208.41 L153.14,207.17 L153.61,205.91 L154.09,204.62 L154.57,203.29 L155.05,201.94 L155.52,200.56 L156.00,199.14 L156.48,197.70 L156.96,196.22 L157.43,194.71 L157.91,193.17 L158.39,191.59 L158.87,189.99 L159.34,188.35 L159.82,186.67 L160.30,184.97 L160.78,183.22 L161.25,181.45 L161.73,179.64 L162.21,177.80 L162.69,175.92 L163.16,174.01 L163.64,172.07 L164.12,170.09 L164.60,168.08 L165.07,166.04 L165.55,163.96 L166.03,161.85 L166.51,159.71 L166.98,157.53 L167.46,155.33 L167.94,153.09 L168.42,150.83 L168.89,148.53 L169.37,146.21 L169.85,143.86 L170.33,141.48 L170.80,139.08 L171.28,136.65 L171.76,134.20 L172.24,131.72 L172.71,129.23 L173.19,126.71 L173.67,124.18 L174.15,121.63 L174.62,119.07 L175.10,116.50 L175.58,113.91 L176.06,111.32 L176.53,108.71 L177.01,106.11 L177.49,103.50 L177.97,100.89 L178.44,98.28 L178.92,95.68 L179.40,93.08 L179.88,90.50 L180.35,87.92 L180.83,85.37 L181.31,82.83 L181.79,80.31 L182.26,77.81 L182.74,75.34 L183.22,72.90 L183.70,70.50 L184.17,68.13 L184.65,65.80 L185.13,63.51 L185.61,61.26 L186.08,59.07 L186.56,56.92 L187.04,54.83 L187.52,52.80 L187.99,50.83 L188.47,48.92 L188.95,47.08 L189.43,45.31 L189.90,43.61 L190.38,41.98 L190.86,40.43 L191.34,38.97 L191.81,37.58 L192.29,36.28 L192.77,35.07 L193.25,33.94 L193.72,32.91 L194.20,31.97 L194.68,31.12 L195.16,30.37 L195.63,29.72 L196.11,29.17 L196.59,28.71 L197.07,28.36 L197.54,28.10 L198.02,27.95 L198.50,27.90 L198.98,27.95 L199.46,28.10 L199.93,28.36 L200.41,28.71 L200.89,29.17 L201.37,29.72 L201.84,30.37 L202.32,31.12 L202.80,31.97 L203.28,32.91 L203.75,33.94 L204.23,35.07 L204.71,36.28 L205.19,37.58 L205.66,38.97 L206.14,40.43 L206.62,41.98 L207.10,43.61 L207.57,45.31 L208.05,47.08 L208.53,48.92 L209.01,50.83 L209.48,52.80 L209.96,54.83 L210.44,56.92 L210.92,59.07 L211.39,61.26 L211.87,63.51 L212.35,65.80 L212.83,68.13 L213.30,70.50 L213.78,72.90 L214.26,75.34 L214.74,77.81 L215.21,80.31 L215.69,82.83 L216.17,85.37 L216.65,87.92 L217.12,90.50 L217.60,93.08 L218.08,95.68 L218.56,98.28 L219.03,100.89 L219.51,103.50 L219.99,106.11 L220.47,108.71 L220.94,111.32 L221.42,113.91 L221.90,116.50 L222.38,119.07 L222.85,121.63 L223.33,124.18 L223.81,126.71 L224.29,129.23 L224.76,131.72 L225.24,134.20 L225.72,136.65 L226.20,139.08 L226.67,141.48 L227.15,143.86 L227.63,146.21 L228.11,148.53 L228.58,150.83 L229.06,153.09 L229.54,155.33 L230.02,157.53 L230.49,159.71 L230.97,161.85 L231.45,163.96 L231.93,166.04 L232.40,168.08 L232.88,170.09 L233.36,172.07 L233.84,174.01 L234.31,175.92 L234.79,177.80 L235.27,179.64 L235.75,181.45 L236.22,183.22 L236.70,184.97 L237.18,186.67 L237.66,188.35 L238.13,189.99 L238.61,191.59 L239.09,193.17 L239.57,194.71 L240.04,196.22 L240.52,197.70 L241.00,199.14 L241.48,200.56 L241.95,201.94 L242.43,203.29 L242.91,204.62 L243.39,205.91 L243.86,207.17 L244.34,208.41 L244.82,209.61 L245.30,210.79 L245.77,211.94 L246.25,213.06 L246.73,214.16 L247.21,215.23 L247.69,216.27 L248.16,217.29 L248.64,218.28 L249.12,219.25 L249.60,220.19 L250.07,221.11 L250.55,222.01 L251.03,222.89 L251.51,223.74 L251.98,224.57 L252.46,225.38 L252.94,226.17 L253.42,226.94 L253.89,227.69 L254.37,228.42 L254.85,229.13 L255.33,229.82 L255.80,230.50 L256.28,231.15 L256.76,231.79 L257.24,232.41 L257.71,233.02 L258.19,233.61 L258.67,234.18 L259.15,234.74 L259.62,235.28 L260.10,235.81 L260.58,236.32 L261.06,236.82 L261.53,237.31 L262.01,237.78 L262.49,238.24 L262.97,238.68 L263.44,239.12 L263.92,239.54 L264.40,239.95 L264.88,240.35 L265.35,240.74 L265.83,241.12 L266.31,241.49 L266.79,241.84 L267.26,242.19 L267.74,242.53 L268.22,242.86 L268.70,243.17 L269.17,243.48 L269.65,243.78 L270.13,244.08 L270.61,244.36 L271.08,244.64 L271.56,244.91 L272.04,245.17 L272.52,245.42 L272.99,245.67 L273.47,245.90 L273.95,246.14 L274.43,246.36 L274.90,246.58 L275.38,246.79 L275.86,247.00 L276.34,247.20 L276.81,247.40 L277.29,247.59 L277.77,247.77 L278.25,247.95 L278.72,248.12 L279.20,248.29 L279.68,248.46 L280.16,248.61 L280.63,248.77 L281.11,248.92 L281.59,249.06 L282.07,249.21 L282.54,249.34 L283.02,249.48 L283.50,249.61 L283.98,249.73 L284.45,249.85 L284.93,249.97 L285.41,250.09 L285.89,250.20 L286.36,250.31 L286.84,250.41 L287.32,250.52 L287.80,250.61 L288.27,250.71 L288.75,250.80 L289.23,250.90 L289.71,250.98 L290.18,251.07 L290.66,251.15 L291.14,251.23 L291.62,251.31 L292.09,251.39 L292.57,251.46 L293.05,251.53 L293.53,251.60 L294.00,251.67 L294.48,251.74 L294.96,251.80 L295.44,251.86 L295.92,251.92 L296.39,251.98 L296.87,252.04 L297.35,252.09 L297.83,252.14 L298.30,252.20 L298.78,252.25 L299.26,252.29 L299.74,252.34 L300.21,252.39 L300.69,252.43 L301.17,252.48 L301.65,252.52 L302.12,252.56 L302.60,252.60 L303.08,252.64 L303.56,252.67 L304.03,252.71 L304.51,252.74 L304.99,252.78 L305.47,252.81 L305.94,252.84 L306.42,252.88 L306.90,252.91 L307.38,252.93 L307.85,252.96 L308.33,252.99 L308.81,253.02 L309.29,253.04 L309.76,253.07 L310.24,253.09 L310.72,253.12 L311.20,253.14 L311.67,253.16 L312.15,253.18 L312.63,253.21 L313.11,253.23 L313.58,253.25 L314.06,253.27 L314.54,253.28 L315.02,253.30 L315.49,253.32 L315.97,253.34 L316.45,253.35 L316.93,253.37 L317.40,253.39 L317.88,253.40 L318.36,253.42 L318.84,253.43 L319.31,253.44 L319.79,253.46 L320.27,253.47 L320.75,253.48 L321.22,253.50 L321.70,253.51 L322.18,253.52 L322.66,253.53 L323.13,253.54 L323.61,253.55 L324.09,253.56 L324.57,253.57 L325.04,253.58 L325.52,253.59 L326.00,253.60 L326.48,253.61 L326.95,253.62 L327.43,253.63 L327.91,253.63 L328.39,253.64 L328.86,253.65 L329.34,253.66 L329.82,253.66 L330.30,253.67 L330.77,253.68 L331.25,253.68 L331.73,253.69 L332.21,253.70 L332.68,253.70 L333.16,253.71 L333.64,253.71 L334.12,253.72 L334.59,253.73 L335.07,253.73 L335.55,253.74 L336.03,253.74 L336.50,253.74 L336.98,253.75 L337.46,253.75 L337.94,253.76 L338.41,253.76 L338.89,253.77 L339.37,253.77 L339.85,253.77 L340.32,253.78 L340.80,253.78 L341.28,253.79 L341.76,253.79 L342.24,253.79 L342.71,253.79 L343.19,253.80 L343.67,253.80 L344.15,253.80 L344.62,253.81 L345.10,253.81 L345.58,253.81 L346.06,253.81 L346.53,253.82 L347.01,253.82 L347.49,253.82 L347.97,253.82 L348.44,253.83 L348.92,253.83 L349.40,253.83 L349.88,253.83 L350.35,253.83 L350.83,253.84 L351.31,253.84 L351.79,253.84 L352.26,253.84 L352.74,253.84 L353.22,253.85 L353.70,253.85 L354.17,253.85 L354.65,253.85 L355.13,253.85 L355.61,253.85 L356.08,253.85 L356.56,253.86 L357.04,253.86 L357.52,253.86 L357.99,253.86 L358.47,253.86 L358.95,253.86 L359.43,253.86 L359.90,253.86 L360.38,253.87 L360.86,253.87 L361.34,253.87 L361.81,253.87 L362.29,253.87 L362.77,253.87 L363.25,253.87 L363.72,253.87 L364.20,253.87 L364.68,253.87 L365.16,253.87 L365.63,253.88 L366.11,253.88 L366.59,253.88 L367.07,253.88 L367.54,253.88 L368.02,253.88 L368.50,253.88 L368.98,253.88 L369.45,253.88 L369.93,253.88 L370.41,253.88 L370.89,253.88 L371.36,253.88 L371.84,253.88 L372.32,253.88 L372.80,253.88 L373.27,253.88 L373.75,253.89 L374.23,253.89 L374.71,253.89 L375.18,253.89 L375.66,253.89 L376.14,253.89 L376.62,253.89 L377.09,253.89 L377.57,253.89 L378.05,253.89 L378.53,253.89 L379.00,253.89 L379.48,253.89 L379.96,253.89 L380.44,253.89 L380.91,253.89 L381.39,253.89 L381.87,253.89 L382.35,253.89 L382.82,253.89 L383.30,253.89 L383.78,253.89 L384.26,253.89 L384.73,253.89 L385.21,253.89 L385.69,253.89 L386.17,253.89 L386.64,253.89 L387.12,253.89 L387.60,253.89 L388.08,253.89 L388.55,253.89 L389.03,253.89 L389.51,253.89" fill="none" stroke="#000000" stroke-width="1.9" stroke-linejoin="round"/>
<!-- axes -->
<line x1="7" y1="253.95" x2="392.8" y2="253.95" stroke="#383838" stroke-width="1"/>
<line x1="198.5" y1="15.2" x2="198.5" y2="253.9" stroke="#383838" stroke-width="1"/>
<line x1="198.5" y1="27.9" x2="201" y2="27.9" stroke="#383838" stroke-width="1"/>
<g>
<!-- tick labels -->
<text x="7.5" y="265" font-size="8.5" text-anchor="middle" fill="#111" stroke="#111" stroke-width="0.15">−3</text>
<text x="198.2" y="265" font-size="8.5" text-anchor="middle" fill="#111" stroke="#111" stroke-width="0.15">0</text>
<text x="388.8" y="265" font-size="8.5" text-anchor="middle" fill="#111" stroke="#111" stroke-width="0.15">3</text>
<path d="M193.45 24.5 L194.4 24.5 L194.4 30.7 L193.45 30.7 L193.45 26.05 Q192.9 26.5 192.2 26.8 L192.2 26.0 Q193.1 25.5 193.45 24.5 Z" fill="#111"/>
<!-- axis labels -->
<text x="399.8" y="258" font-size="11" fill="#555" stroke="#555" stroke-width="0.3">x</text>
<text x="195.2" y="10.2" font-size="10.3" font-style="italic" fill="#555" stroke="#555" stroke-width="0.3">ρ<tspan font-size="8" letter-spacing="0.35" x="201.1" y="12.8">S,λ</tspan></text>
<!-- legend -->
<g fill="#484848" stroke="#484848" stroke-width="0.2">
<text x="442" y="102" font-size="10.5" font-style="italic" text-anchor="middle">λ</text>
<text x="449.7" y="115.7" font-size="10.8">0.95</text>
<text x="453.3" y="131.8" font-size="8.3" text-anchor="middle">4</text>
<text x="453.4" y="143.8" font-size="8.3" text-anchor="middle">5</text>
<text x="453.4" y="158.5" font-size="8.3" text-anchor="middle">2</text>
<text x="453.4" y="169.8" font-size="8.3" text-anchor="middle">5</text>
<text x="449.7" y="186.7" font-size="10.8">0</text>
</g>
<line x1="451" y1="134.0" x2="456.5" y2="134.0" stroke="#484848" stroke-width="0.9"/>
<line x1="451" y1="160.2" x2="456.5" y2="160.2" stroke="#484848" stroke-width="0.9"/>
<line x1="412.2" y1="112" x2="442.4" y2="112" stroke="#ff0000" stroke-width="1.5" stroke-dasharray="4.6 1.7"/>
<line x1="412.1" y1="133.2" x2="442.4" y2="133.2" stroke="#0000ff" stroke-width="1.9" stroke-dasharray="2.4 1.3 5.2 1.8"/>
<line x1="412.2" y1="159.4" x2="442.6" y2="159.4" stroke="#00aa00" stroke-width="1.9" stroke-dasharray="4.9 1.5"/>
<line x1="412.2" y1="182.2" x2="443.2" y2="182.2" stroke="#000" stroke-width="1.9"/>
</g>
</svg>
</body></html>
